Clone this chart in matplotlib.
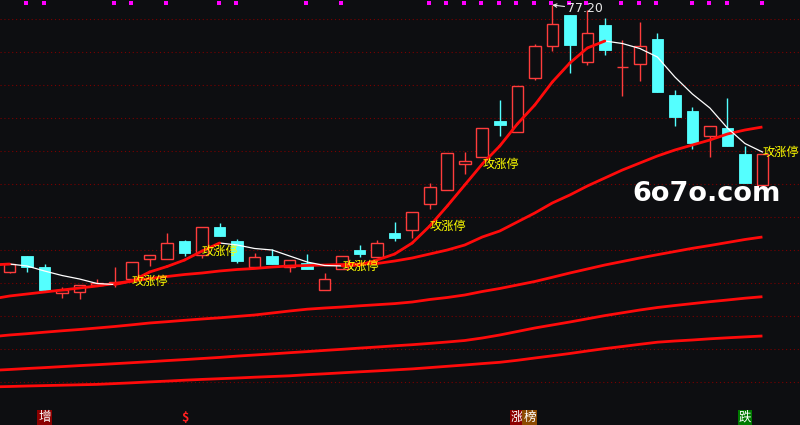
import numpy as np
import matplotlib
matplotlib.use("Agg")
import matplotlib.pyplot as plt
import matplotlib.transforms as mtransforms
from matplotlib.patches import Rectangle
from matplotlib.collections import LineCollection

plt.rcParams['font.family'] = ['Noto Sans CJK SC', 'DejaVu Sans']

# ---------------- data ----------------
opens  = [50.55, 52.1, 51.0, 48.4, 48.5, 49.2, 49.45, 49.8, 51.8, 51.8, 53.6, 52.2, 55.0, 53.6, 51.0,
          52.1, 51.0, 51.4, 48.7, 50.8, 52.7, 52.0, 54.4, 54.7, 57.3, 58.7, 61.3, 62.0, 65.6, 64.5,
          69.9, 73.1, 76.2, 71.5, 75.2, 71.0, 71.3, 73.8, 68.2, 66.6, 64.1, 64.9, 62.3, 59.2]
highs  = [51.4, 52.1, 51.3, 49.0, 49.2, 49.8, 51.0, 51.5, 52.2, 54.4, 53.7, 55.0, 55.4, 53.8, 52.4,
          52.8, 51.7, 52.3, 50.4, 52.1, 53.2, 53.7, 55.5, 56.5, 59.4, 62.4, 62.5, 64.9, 67.7, 69.1,
          73.3, 77.2, 76.2, 76.7, 75.9, 73.7, 75.5, 74.4, 68.7, 67.0, 65.1, 67.9, 63.1, 62.3]
lows   = [50.4, 50.5, 48.5, 47.9, 47.8, 49.2, 49.0, 49.8, 51.1, 51.8, 52.1, 51.9, 54.1, 51.4, 51.0,
          51.3, 50.5, 50.8, 48.7, 50.8, 52.0, 52.0, 53.6, 53.9, 56.8, 58.7, 60.3, 62.0, 64.1, 64.5,
          69.7, 72.6, 70.4, 71.2, 72.2, 68.1, 69.6, 68.5, 65.1, 62.8, 62.0, 63.1, 59.4, 59.2]
closes = [51.3, 51.0, 48.7, 48.7, 49.2, 49.4, 49.5, 51.5, 52.2, 53.4, 52.4, 55.0, 54.1, 51.6, 52.0,
          51.3, 51.7, 50.8, 49.8, 52.1, 52.3, 53.4, 53.9, 56.5, 59.0, 62.4, 61.6, 64.9, 65.2, 69.1,
          73.1, 75.3, 73.2, 74.4, 72.7, 71.05, 73.1, 68.5, 66.0, 63.4, 65.1, 63.1, 59.4, 62.3]

# moving-average style lines, first value belongs to the bar just left of the view
ma_fast = [51.2, 51.3, 51.1, 50.6, 50.15, 49.8, 49.35, 49.25, 49.6, 50.5, 51.05, 51.7, 52.6, 53.4, 53.2,
           52.85, 52.7, 52.1, 51.5, 51.15, 51.1, 51.2, 51.7, 52.3, 53.4, 55.1, 57.1, 59.2, 61.3, 63.1,
           65.3, 67.2, 69.5, 71.4, 72.9, 73.6, 73.35, 72.85, 72.0, 70.0, 68.3, 66.9, 64.9, 63.35, 62.5]
ma_b = [47.8, 48.1, 48.3, 48.5, 48.7, 48.9, 49.1, 49.35, 49.6, 49.85, 50.05, 50.25, 50.4, 50.6, 50.75,
        50.85, 51.0, 51.1, 51.15, 51.2, 51.25, 51.3, 51.35, 51.6, 51.9, 52.3, 52.7, 53.2, 54.0, 54.6,
        55.5, 56.4, 57.4, 58.2, 59.1, 59.9, 60.7, 61.4, 62.1, 62.7, 63.2, 63.7, 64.3, 64.7, 65.0]
ma_c = [44.03, 44.2, 44.33, 44.48, 44.62, 44.75, 44.9, 45.05, 45.22, 45.4, 45.53, 45.67, 45.8, 45.92, 46.06,
        46.2, 46.4, 46.6, 46.78, 46.9, 47.0, 47.12, 47.23, 47.34, 47.5, 47.75, 47.95, 48.2, 48.55, 48.85,
        49.2, 49.55, 49.97, 50.4, 50.8, 51.2, 51.55, 51.9, 52.23, 52.55, 52.87, 53.15, 53.45, 53.75, 54.0]
ma_d = [40.66, 40.75, 40.85, 40.94, 41.04, 41.14, 41.23, 41.33, 41.43, 41.53, 41.64, 41.74, 41.85, 41.96, 42.09,
        42.2, 42.31, 42.43, 42.54, 42.66, 42.77, 42.89, 43.0, 43.12, 43.23, 43.36, 43.5, 43.65, 43.9, 44.2,
        44.55, 44.9, 45.2, 45.5, 45.82, 46.14, 46.42, 46.7, 46.95, 47.15, 47.34, 47.53, 47.7, 47.88, 48.03]
ma_e = [39.01, 39.05, 39.1, 39.14, 39.18, 39.22, 39.26, 39.34, 39.42, 39.51, 39.59, 39.68, 39.76, 39.83, 39.9,
        39.98, 40.05, 40.12, 40.23, 40.32, 40.42, 40.52, 40.61, 40.71, 40.81, 40.94, 41.07, 41.2, 41.34, 41.47,
        41.67, 41.9, 42.12, 42.35, 42.6, 42.84, 43.05, 43.27, 43.48, 43.6, 43.7, 43.82, 43.92, 44.01, 44.1]

signal_bars = [7, 11, 19, 24, 27, 43]          # "攻涨停"
signal_text = "攻涨停"
dot_bars = [1, 2, 6, 7, 9, 12, 13, 17, 19, 24, 25, 26, 27, 28, 29, 30, 31, 32, 33, 35, 36, 37, 39, 40, 41, 43]
high_bar = 31
high_label = "77.20"
bottom_marks = [(2, "增", "#ffffff", "#8b0000"),
                (10, "\\$", "#ff2020", None),
                (29, "涨", "#ffffff", "#8b0000"),
                (29.7, "榜", "#ffffff", "#8b4a00"),
                (42, "跌", "#ffffff", "#007a00")]
grid_levels = [75.8, 72.5, 69.2, 65.9, 62.6, 59.3, 56.0, 52.7, 49.4, 46.1, 42.8, 39.5]

# ---------------- styles ----------------
BG = "#0d0e11"
RED = "#ff3c3c"
LINE_RED = "#ff0a0a"
CYAN = "#54ffff"

fig = plt.figure(figsize=(8, 4.25), dpi=100)
fig.patch.set_facecolor(BG)
ax = fig.add_axes([0, 0, 1, 1])
ax.set_facecolor(BG)
ax.set_xlim(-0.5426, 45.146)
ax.set_ylim(35.2, 77.7)
for s in ax.spines.values():
    s.set_visible(False)
ax.set_xticks([])
ax.set_yticks(grid_levels)
ax.tick_params(left=False, labelleft=False)
ax.yaxis.grid(True, color="#7a0000", linestyle=(0, (1, 2.5)), linewidth=0.8)
ax.set_axisbelow(True)

# candles
w = 0.66
for i, (o, h, l, c) in enumerate(zip(opens, highs, lows, closes)):
    if c >= o:
        top, bot = c, o
        ax.vlines(i, top, h, color=RED, lw=1, zorder=2)
        ax.vlines(i, l, bot, color=RED, lw=1, zorder=2)
        ax.add_patch(Rectangle((i - w / 2, bot), w, max(top - bot, 0.02),
                               facecolor=BG, edgecolor=RED, lw=1, zorder=3))
    else:
        ax.vlines(i, l, h, color=CYAN, lw=1, zorder=2)
        ax.add_patch(Rectangle((i - w / 2, c), w, o - c,
                               facecolor=CYAN, edgecolor=CYAN, lw=0.6, zorder=3))

# lines
xm = np.arange(-1, len(opens))
for m in (ma_b, ma_c, ma_d, ma_e):
    ax.plot(xm, m, color=LINE_RED, lw=2.0, zorder=4, solid_capstyle='butt')

ma_fast_arr = np.array(ma_fast)
ax.plot(xm, ma_fast_arr, color="#ffffff", lw=0.9, zorder=5)
segs = []
for k in range(1, len(xm)):
    if ma_fast_arr[k] > ma_fast_arr[k - 1]:
        segs.append([(xm[k - 1], ma_fast_arr[k - 1]), (xm[k], ma_fast_arr[k])])
ax.add_collection(LineCollection(segs, colors=LINE_RED, linewidths=2.0, zorder=6, capstyle='round'))

# signal labels
for b in signal_bars:
    ax.text(b, ma_fast_arr[b + 1], signal_text, color="#ffff00", fontsize=8.8,
            ha="left", va="center", zorder=8)

# magenta dots at the top
top_tr = mtransforms.blended_transform_factory(ax.transData, ax.transAxes)
ax.plot(np.array(dot_bars) - 0.05, [1 - 2.5 / 425] * len(dot_bars), "s", color="#ff00ff",
        ms=2.4, mew=0, transform=top_tr, zorder=9, clip_on=False)

# high annotation
ax.annotate(high_label, xy=(high_bar, highs[high_bar]), xytext=(15, -4), textcoords="offset pixels",
            color="#e8e8e8", fontsize=9, ha="left", va="center", family="DejaVu Sans",
            arrowprops=dict(arrowstyle="->", color="#e8e8e8", lw=0.8, shrinkA=0, shrinkB=0,
                            mutation_scale=6), zorder=9)

# bottom marks
for b, t, col, bg in bottom_marks:
    kw = {}
    if bg:
        kw["bbox"] = dict(boxstyle="square,pad=0.08", fc=bg, ec="none")
    ax.text(b, 0.0176, t, color=col, fontsize=9,
            ha="center", va="center", transform=top_tr, zorder=9,
            fontweight="bold" if not bg else "normal", **kw)

# watermark
fig.text(632 / 800, 1 - 201 / 425, "6o7o.com", color="#ffffff", fontsize=19.5,
         fontweight="bold", family="DejaVu Sans", ha="left", va="baseline", zorder=10)

fig.savefig("out.png", dpi=100, facecolor=BG)
